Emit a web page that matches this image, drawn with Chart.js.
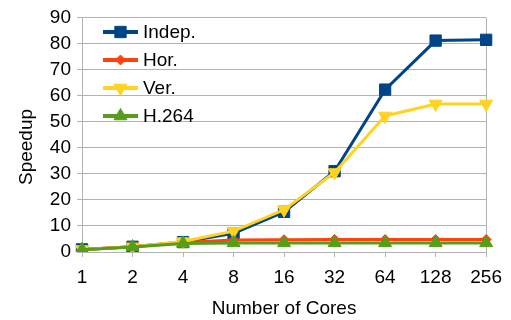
<!DOCTYPE html>
<html>
<head>
<meta charset="utf-8">
<script src="https://cdn.jsdelivr.net/npm/chart.js@4"></script>
<style>
  html, body { margin: 0; padding: 0; background: #fff; }
  #wrap { width: 511px; height: 320px; }
</style>
</head>
<body>
<div id="wrap"><canvas id="chart" width="511" height="320"></canvas></div>
<script>
// dados
const cores = ['1', '2', '4', '8', '16', '32', '64', '128', '256'];
const indep = [1, 2, 3.8, 7.2, 15.4, 31, 62.3, 81.1, 81.4];
const hor = [1, 2, 3.6, 4.6, 4.7, 4.8, 4.8, 4.8, 4.8];
const ver = [1, 2, 4, 8, 16.2, 30.5, 52.2, 56.8, 56.8];
const h264 = [0.9, 1.9, 3.3, 3.5, 3.5, 3.5, 3.5, 3.5, 3.5];
const yTicks = [0, 10, 20, 30, 40, 50, 60, 70, 80, 90];
const tituloY = 'Speedup';

const fonte = { family: '"Liberation Sans", Arial, sans-serif', size: 19 };
const cinza = '#b3b3b3';

function serie(label, data, cor, estilo, raio, rot, ordem) {
    return {
        label: label,
        data: data,
        borderColor: cor,
        backgroundColor: cor,
        borderWidth: 3,
        pointStyle: estilo,
        pointRadius: raio,
        pointHoverRadius: raio,
        pointRotation: rot,
        pointBorderWidth: 1,
        tension: 0,
        order: ordem
    };
}

// legenda desenhada dentro da área do gráfico + título do eixo Y
const legendaInterna = {
    id: 'legendaInterna',
    afterDraw(chart) {
        const ctx = chart.ctx;
        const x0 = 103, x1 = 138, y0 = 32, passo = 28;
        ctx.save();
        ctx.font = fonte.size + 'px ' + fonte.family;
        chart.data.datasets.forEach((ds, i) => {
            const y = y0 + i * passo;
            ctx.strokeStyle = ds.borderColor;
            ctx.lineWidth = 4;
            ctx.beginPath();
            ctx.moveTo(x0, y);
            ctx.lineTo(x1, y);
            ctx.stroke();
            ctx.fillStyle = ds.backgroundColor;
            ctx.lineWidth = 1;
            Chart.helpers.drawPoint(ctx, {
                pointStyle: ds.pointStyle,
                rotation: ds.pointRotation,
                radius: ds.pointRadius,
                borderWidth: 1
            }, (x0 + x1) / 2, y);
            ctx.fillStyle = '#000';
            ctx.textBaseline = 'middle';
            ctx.textAlign = 'left';
            ctx.fillText(ds.label, 143, y + 1);
        });
        // título do eixo Y (um pouco abaixo do centro, como no original)
        ctx.translate(27, 147);
        ctx.rotate(-Math.PI / 2);
        ctx.textAlign = 'center';
        ctx.textBaseline = 'middle';
        ctx.fillStyle = '#000';
        ctx.fillText(tituloY, 0, 0);
        ctx.restore();
    }
};

new Chart(document.getElementById('chart'), {
    type: 'line',
    data: {
        labels: cores,
        datasets: [
            serie('Indep.', indep, '#004586', 'rect', 8, 0, 4),
            serie('Hor.', hor, '#ff420e', 'rectRot', 5, 0, 3),
            serie('Ver.', ver, '#ffd320', 'triangle', 7.5, 180, 2),
            serie('H.264', h264, '#579d1c', 'triangle', 7.5, 0, 1)
        ]
    },
    options: {
        responsive: false,
        animation: false,
        layout: { padding: { top: 15, right: 24, left: 0, bottom: 0 } },
        plugins: {
            legend: { display: false },
            tooltip: { enabled: false }
        },
        scales: {
            x: {
                offset: false,
                afterFit(scale) { scale.height = 68; },
                grid: {
                    drawOnChartArea: true,
                    color: c => c.index === cores.length - 1 ? cinza : 'rgba(0,0,0,0)',
                    tickColor: cinza,
                    tickLength: 5,
                    lineWidth: 1
                },
                border: { color: cinza, width: 1 },
                ticks: { color: '#000', font: fonte, padding: 9, maxRotation: 0, autoSkip: false },
                title: {
                    display: true,
                    text: 'Number of Cores',
                    color: '#000',
                    font: fonte,
                    padding: { top: 2, bottom: 0 }
                }
            },
            y: {
                min: 0,
                max: 90,
                afterFit(scale) { scale.width = 82; },
                afterBuildTicks(scale) { scale.ticks = yTicks.map(v => ({ value: v })); },
                grid: { color: cinza, tickColor: cinza, tickLength: 5, lineWidth: 1 },
                border: { color: cinza, width: 1 },
                ticks: { color: '#000', font: fonte, padding: 6 },
                title: { display: false }
            }
        }
    },
    plugins: [legendaInterna]
});
</script>
</body>
</html>
